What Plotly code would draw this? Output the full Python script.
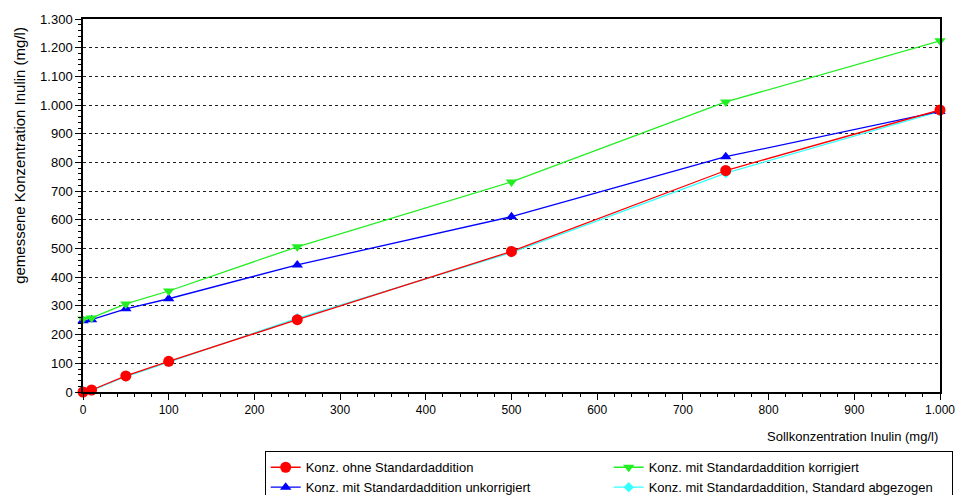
import plotly.graph_objects as go

# Sollkonzentration (mg/l)
soll = [0, 10, 50, 100, 250, 500, 750, 1000]

# Gemessene Konzentrationen (mg/l)
ohne_std = [0, 7, 56, 107, 252, 490, 772, 983]
mit_std_unkorr = [248, 252, 290, 325, 443, 611, 820, 978]
mit_std_korr = [254, 258, 307, 352, 506, 732, 1011, 1224]
std_abgezogen = [0, 5, 54, 104, 257, 486, 763, 978]

names = [
    "Konz. ohne Standardaddition",
    "Konz. mit Standardaddition korrigiert",
    "Konz. mit Standardaddition unkorrigiert",
    "Konz. mit Standardaddition, Standard abgezogen",
]

FONT = "Liberation Sans, Arial, sans-serif"

fig = go.Figure()

# drawn back to front; legendrank fixes the legend order
fig.add_trace(go.Scatter(
    x=soll, y=std_abgezogen, name=names[3], mode="lines+markers",
    line=dict(color="#33ffff", width=1.3),
    marker=dict(symbol="diamond", size=8, color="#33ffff"),
    legendrank=4, cliponaxis=False))
fig.add_trace(go.Scatter(
    x=soll, y=mit_std_unkorr, name=names[2], mode="lines+markers",
    line=dict(color="#0000ff", width=1.3),
    marker=dict(symbol="triangle-up", size=10, color="#0000ff"),
    legendrank=3, cliponaxis=False))
fig.add_trace(go.Scatter(
    x=soll, y=mit_std_korr, name=names[1], mode="lines+markers",
    line=dict(color="#22ee22", width=1.3),
    marker=dict(symbol="triangle-down", size=10, color="#22ee22"),
    legendrank=2, cliponaxis=False))
fig.add_trace(go.Scatter(
    x=soll, y=ohne_std, name=names[0], mode="lines+markers",
    line=dict(color="#ff0000", width=1.3),
    marker=dict(symbol="circle", size=11, color="#ff0000"),
    legendrank=1, cliponaxis=False))

fig.update_layout(
    width=959, height=495,
    margin=dict(l=83, r=19, t=19, b=103, autoexpand=False),
    paper_bgcolor="white", plot_bgcolor="white",
    separators=",.",
    font=dict(family=FONT, size=12, color="black"),
    showlegend=True,
    legend=dict(
        orientation="h", x=0.212, xanchor="left", y=-0.159, yanchor="top",
        entrywidth=298, entrywidthmode="pixels",
        bordercolor="black", borderwidth=1, bgcolor="white",
        font=dict(family=FONT, size=13), itemwidth=30,
        tracegroupgap=0,
    ),
    xaxis=dict(
        range=[0, 1000], dtick=100, tickformat=",d",
        showline=True, linecolor="black", linewidth=1.5, mirror=True,
        ticks="outside", ticklen=6, tickcolor="black", tickwidth=1,
        minor=dict(dtick=20, ticks="outside", ticklen=3, tickcolor="black", showgrid=False),
        showgrid=False, zeroline=False,
        tickfont=dict(size=12),
    ),
    yaxis=dict(
        range=[0, 1300], dtick=100, tickformat=",d",
        showline=True, linecolor="black", linewidth=1.5, mirror=True,
        ticks="outside", ticklen=6, tickcolor="black", tickwidth=1,
        minor=dict(dtick=20, ticks="outside", ticklen=3, tickcolor="black", showgrid=False),
        showgrid=True, gridcolor="#222222", griddash="dot", gridwidth=1,
        zeroline=False,
        tickfont=dict(size=13),
    ),
    annotations=[
        dict(text="Sollkonzentration Inulin (mg/l)", xref="paper", yref="paper",
             x=1.0, y=-0.118, xanchor="right", yanchor="middle",
             showarrow=False, font=dict(family=FONT, size=13)),
        dict(text="gemessene Konzentration Inulin (mg/l)", xref="paper", yref="paper",
             x=-0.075, y=0.635, xanchor="center", yanchor="middle", textangle=-90,
             showarrow=False, font=dict(family=FONT, size=15)),
    ],
)

fig.write_html("out.html")
